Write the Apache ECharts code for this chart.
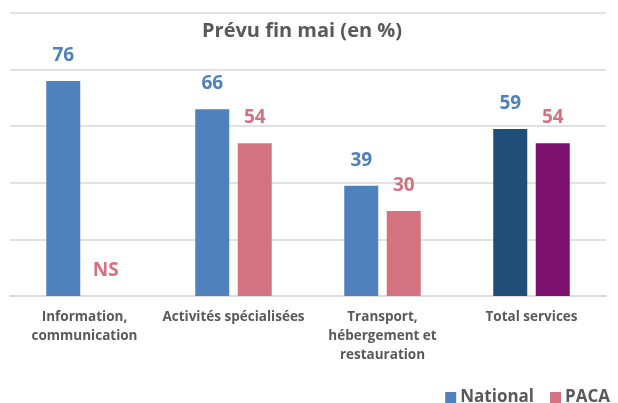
<!DOCTYPE html>
<html>
<head>
<meta charset="utf-8">
<script src="https://cdn.jsdelivr.net/npm/echarts@6/dist/echarts.min.js"></script>
<style>
  html, body { margin: 0; padding: 0; background: #fff; }
  #chart { width: 618px; height: 403px; }
</style>
</head>
<body>
<div id="chart"></div>
<script>
const categories = ['Information,\ncommunication', 'Activités spécialisées', 'Transport,\nhébergement et\nrestauration', 'Total services']
const nationalValues = [76, 66, 39, 59]
const pacaValues = [null, 54, 30, 54] // null = NS (non significatif)
const nationalColors = ['#4f81bd', '#4f81bd', '#4f81bd', '#1f4e79']
const pacaColors = ['#d37382', '#d37382', '#d37382', '#7b106f']

const font = '"Open Sans", sans-serif'

const chart = echarts.init(document.getElementById('chart'))

chart.setOption({
  animation: false,
  backgroundColor: '#fff',
  title: {
    text: 'Prévu fin mai (en %)',
    left: 197,
    top: 16,
    textStyle: { fontFamily: font, fontSize: 20, fontWeight: 'bold', color: '#595959' },
  },
  legend: {
    right: 3,
    top: 384,
    itemWidth: 11,
    itemHeight: 11,
    itemGap: 16,
    icon: 'rect',
    data: ['National', 'PACA'],
    textStyle: { fontFamily: font, fontSize: 17, fontWeight: 'bold', color: '#595959', padding: [0, 0, 0, -1] },
  },
  grid: { left: 10, right: 12, top: 13, bottom: 107 },
  xAxis: {
    type: 'category',
    data: categories,
    axisTick: { show: false },
    axisLine: { lineStyle: { color: '#d9d9d9', width: 1.5 } },
    axisLabel: {
      interval: 0,
      margin: 12,
      lineHeight: 19,
      fontFamily: font,
      fontSize: 13.5,
      fontWeight: 'bold',
      color: '#595959',
    },
  },
  yAxis: {
    type: 'value',
    min: 0,
    max: 100,
    interval: 20,
    axisLabel: { show: false },
    axisLine: { show: false },
    axisTick: { show: false },
    splitLine: { lineStyle: { color: '#d9d9d9', width: 1.5 } },
  },
  series: [
    {
      name: 'National',
      type: 'bar',
      barWidth: 34,
      barGap: '25%',
      itemStyle: { color: '#4f81bd' },
      label: {
        show: true,
        position: 'top',
        distance: 16,
        fontFamily: font,
        fontSize: 19,
        fontWeight: 'bold',
        color: '#4f81bd',
      },
      data: nationalValues.map((v, i) => ({ value: v, itemStyle: { color: nationalColors[i] } })),
    },
    {
      name: 'PACA',
      type: 'bar',
      barWidth: 34,
      itemStyle: { color: '#d37382' },
      label: {
        show: true,
        position: 'top',
        distance: 16,
        fontFamily: font,
        fontSize: 19,
        fontWeight: 'bold',
        color: '#d37382',
        formatter: (p) => (p.data.ns ? 'NS' : p.value),
      },
      data: pacaValues.map((v, i) =>
        v === null ? { value: 0, ns: true } : { value: v, itemStyle: { color: pacaColors[i] } }
      ),
    },
  ],
})
</script>
</body>
</html>
